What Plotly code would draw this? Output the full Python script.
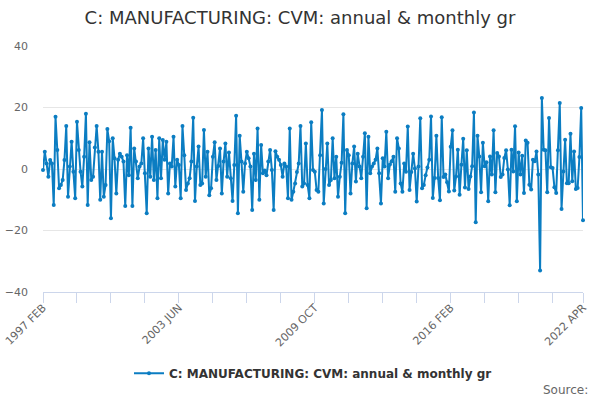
import plotly.graph_objects as go

MONTHS = ["JAN", "FEB", "MAR", "APR", "MAY", "JUN", "JUL", "AUG", "SEP", "OCT", "NOV", "DEC"]
START_YEAR, START_MONTH, N_POINTS = 1997, 2, 303

# Monthly values (1997 FEB .. 2022 APR)
vals_a = [-0.3, 5.6, 1.8, -2.5, 2.9, 1.8, -11.7, 17.0, 6.2, -6.3,
          -5.2, -3.6, 2.9, 14.0, -9.0, 0.8, 8.9, -0.9, -9.5, 15.4,
          6.2, -0.9, -5.7, 4.0, 18.0, -11.7, 8.7, -3.6, -2.5, 7.0,
          14.0, 5.6, -10.0, 5.6, -9.0, -5.2, 13.0, 9.0, -16.0]
vals_b = [10.0, 3.5, -8.0, 3.0, 5.0, 4.0, 2.4, -12.0, 4.5, -2.0,
          13.4, -12.0, 6.7, 2.4, -3.0, 0.8, 1.8, 10.0, -1.4, -14.4,
          6.7, -2.5, 10.5, -3.6, 6.2, -9.5, 10.0, -3.0, 9.4, 3.0,
          8.9, -8.0, 1.8, 0.8, 10.5, -5.7, 3.0, 1.3]
vals_c = [-9.5, 14.0, 4.5, -6.8, -4.7, -3.0, 2.4, 16.7, -10.4, 0.8,
          7.3, -5.2, -4.7, 12.7, -2.5, 5.6, -8.5, -6.3, 4.0, 8.7,
          -3.6, 1.0, 6.7, -8.0, 2.4, 8.3, -2.5, 5.4, -3.0, -10.4,
          1.3, 17.3, -14.4, 10.8, 2.4, -7.4, 1.8, 5.6]
vals_d = [3.5, 0.8, -13.3, 5.0, -3.6, 13.2, -10.0, 7.8, -1.4, -0.5,
          -2.0, 2.4, 6.2, -0.3, -13.3, 5.8, 4.0, 3.0, 1.3, -2.5,
          1.8, 0.8, -9.5, 13.2, -10.0, -7.4, -4.7, -1.0, 1.8, 14.0,
          -5.7, -4.7, 8.3, -5.2, -9.5, 15.2, -0.3, -0.9, -6.8]
vals_e = [-7.4, 4.5, 19.2, -11.2, 0.0, 8.3, -5.2, -3.6, 10.0, -3.0,
          4.0, -9.0, -2.5, 2.0, 17.8, -14.4, 6.2, 4.5, -8.0, 1.8,
          7.3, -4.1, 5.0, 0.8, -3.0, 4.0, 11.6, -12.8, 10.5, -1.4,
          0.8, 1.8, 3.0, 6.7, -1.4, -11.2, 3.5, 0.8, 12.1]
vals_f = [-3.0, 1.5, 2.5, 4.0, -7.4, 10.0, 6.7, -4.7, -7.4, 1.8,
          -0.9, 13.8, -6.8, -1.0, 5.0, 0.2, -10.6, 0.8, 16.5, -6.3,
          -5.2, -2.0, 0.5, 3.0]
vals_g = [17.1, -9.4, -2.9, 10.8, -2.9, -10.2, 16.8, -2.6, -1.8, -4.3,
          -7.3, 7.2, 12.6, -7.0, -2.4, 6.3, -8.4, 1.4, 9.8, -6.0,
          6.1, -6.5, -2.4, 0.9, 18.4, -17.3]
vals_h = [10.8, 4.1, -7.6, 8.5, 0.9, 2.2, -10.5, 4.1, -1.8, 12.6,
          -7.6, 5.2, 4.1, -2.6, -1.8, 3.6, 6.1, -0.2, -11.8, 6.3,
          -0.8, 13.9, -10.5, 5.4, -1.8, 4.3, -7.8, 9.3, 8.5, -5.1,
          -6.7, 3.0, 2.5, 5.7, -1.8, -33.0, 23.1, 6.3, 6.1, -7.6,
          16.6, 0.6, 0.3, -5.9, -7.8, 6.1, 21.5, -13.0, -0.8, 9.5,
          -4.6, -4.6, 11.5, -4.0, 5.7, -6.5, -6.2, 3.9, 19.8, -16.7]

values = vals_a + vals_b + vals_c + vals_d + vals_e + vals_f + vals_g + vals_h

# Category labels "YYYY MON"
categories = []
y, m = START_YEAR, START_MONTH
for _ in range(N_POINTS):
    categories.append(f"{y} {MONTHS[m - 1]}")
    m += 1
    if m > 12:
        m = 1
        y += 1

tick_idx = list(range(0, N_POINTS, 19)) + [N_POINTS - 1]
tick_vals = [categories[i] for i in tick_idx]
tick_text = [categories[i] if (i % 76 == 0 or i == N_POINTS - 1) else "" for i in tick_idx]

series_name = "C: MANUFACTURING: CVM: annual & monthly gr"
LINE_COLOR = "#0b7dc2"
FONT = "DejaVu Sans"

fig = go.Figure()
fig.add_trace(go.Scatter(
    x=categories, y=values, mode="lines+markers", name=series_name,
    line=dict(color=LINE_COLOR, width=2),
    marker=dict(color=LINE_COLOR, size=4),
    cliponaxis=False,
))

fig.update_layout(
    width=600, height=400,
    margin=dict(l=43, r=17, t=46, b=108, autoexpand=False),
    paper_bgcolor="white", plot_bgcolor="white",
    font=dict(family=FONT, color="#666666", size=11),
    title=dict(text="C: MANUFACTURING: CVM: annual & monthly gr",
               x=0.5, xanchor="center", y=0.955, yanchor="middle", yref="container",
               font=dict(family=FONT, size=18, color="#333333")),
    showlegend=True,
    legend=dict(orientation="h", x=0.5, xanchor="center", y=-0.33, yanchor="middle",
                font=dict(family=FONT, size=12, color="#333333", weight="bold"),
                bgcolor="rgba(0,0,0,0)"),
    xaxis=dict(type="category", range=[0, N_POINTS - 1], automargin=False,
               tickmode="array", tickvals=tick_vals, ticktext=tick_text,
               tickangle=-45, ticks="outside", ticklen=10, tickcolor="#ccd6eb",
               ticklabelstandoff=-6,
               showline=True, linecolor="#ccd6eb", linewidth=1,
               showgrid=False, zeroline=False,
               tickfont=dict(family=FONT, size=11, color="#666666")),
    yaxis=dict(range=[-40, 40], tickmode="array", tickvals=[-40, -20, 0, 20, 40],
               automargin=False,
               showgrid=True, gridcolor="#e6e6e6", gridwidth=1,
               zeroline=False, showline=False, ticks="",
               ticklabelstandoff=14,
               tickfont=dict(family=FONT, size=11, color="#666666")),
    annotations=[dict(text="Source:", xref="paper", yref="paper", x=1.013, y=-0.398,
                      xanchor="right", yanchor="middle", showarrow=False,
                      font=dict(family=FONT, size=12, color="#666666"))],
)

fig.write_html("out.html", config={"displayModeBar": False},
               post_script="document.body.style.margin='0';document.body.style.overflow='hidden';")
